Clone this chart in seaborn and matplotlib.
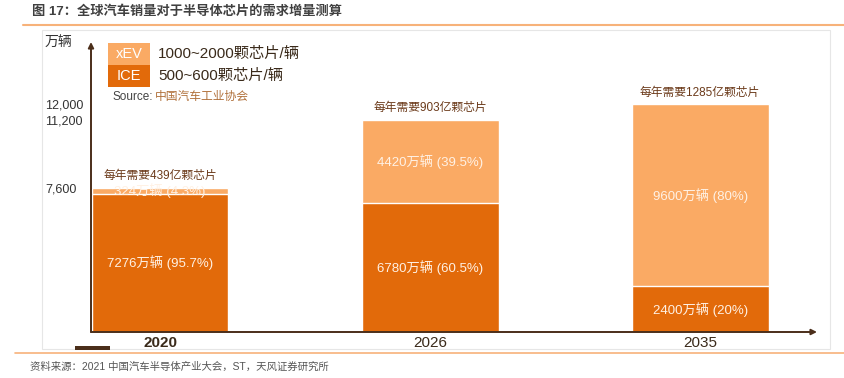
import numpy as np
import matplotlib
matplotlib.use('Agg')
import matplotlib.pyplot as plt
import seaborn as sns
import pandas as pd
from matplotlib.patches import Rectangle
from matplotlib.lines import Line2D

# data
years = ['2020', '2026', '2035']
ice = [7276, 6780, 2400]
xev = [324, 4420, 9600]
ice_pct = ['95.7%', '60.5%', '20%']
xev_pct = ['4.3%', '39.5%', '80%']
chips = ['439', '903', '1285']
yticks = [7600, 11200, 12000]

df = pd.DataFrame({'year': years, 'ice': ice, 'xev': xev})
df['total'] = df['ice'] + df['xev']

sns.set_theme(style='white')
plt.rcParams['font.family'] = ['Liberation Sans', 'Noto Sans CJK SC']

ICE_C = '#E26A0A'
XEV_C = '#FAAA64'
AXIS_C = '#4B2E1A'
LINE_C = '#F7B27A'

W, H = 845, 378
fig = plt.figure(figsize=(W / 100, H / 100), dpi=100)

def fx(px):
    return px / W

def fy(py):
    return 1 - py / H

# axes placed in pixel terms: left 91, right 817, bottom 332, top 42
ax = fig.add_axes([fx(91), fy(332), fx(817 - 91), (332 - 42) / H])

sns.barplot(data=df, x='year', y='total', color=XEV_C, saturation=1, width=0.507, ax=ax)
sns.barplot(data=df, x='year', y='ice', color=ICE_C, saturation=1, width=0.507, ax=ax)

ax.set_xlim(-0.2556, 2.433)
ax.set_ylim(0, 15294)
ax.set_xlabel('')
ax.set_ylabel('')
for s in ax.spines.values():
    s.set_visible(False)

ax.set_yticks(yticks)
ax.set_yticklabels([f'{v:,}' for v in yticks], fontsize=9, color='#333333')
ax.tick_params(axis='y', length=0, pad=33)
for t in ax.get_yticklabels():
    t.set_horizontalalignment('left')
ax.tick_params(axis='x', length=0, pad=3)
ax.set_xticks(range(len(years)))
ax.set_xticklabels(years, fontsize=11, color='#3a2a1a')
ax.get_xticklabels()[0].set_fontweight('bold')

# arrows for the axes
ax.annotate('', xy=(0, 1.0), xytext=(0, 0), xycoords='axes fraction',
            arrowprops=dict(arrowstyle='-|>', color=AXIS_C, lw=1.4, mutation_scale=8, shrinkA=0, shrinkB=0))
ax.annotate('', xy=(1.0, 0), xytext=(0, 0), xycoords='axes fraction',
            arrowprops=dict(arrowstyle='-|>', color=AXIS_C, lw=1.4, mutation_scale=8, shrinkA=0, shrinkB=0))

# segment labels and totals
for i in range(len(years)):
    ax.text(i, ice[i] / 2, f'{ice[i]}万辆 ({ice_pct[i]})', ha='center', va='center',
            fontsize=9.5, color='#FFF1E4')
    ax.text(i, ice[i] + xev[i] / 2, f'{xev[i]}万辆 ({xev_pct[i]})', ha='center', va='center',
            fontsize=9.5, color='#FFF1E4')
    ax.annotate(f'每年需要{chips[i]}亿颗芯片', xy=(i, ice[i] + xev[i]), xytext=(0, 4),
                textcoords='offset points', ha='center', va='bottom', fontsize=8.5, color='#6B3A1A')

# unit label
fig.text(fx(45), fy(43), '万辆', fontsize=10, color='#333333', va='center', ha='left')

# legend boxes
fig.patches.append(Rectangle((fx(108), fy(65)), fx(42), 22 / H, transform=fig.transFigure,
                             facecolor=XEV_C, edgecolor='none'))
fig.patches.append(Rectangle((fx(108), fy(87)), fx(42), 22 / H, transform=fig.transFigure,
                             facecolor=ICE_C, edgecolor='none'))
fig.text(fx(129), fy(54), 'xEV', fontsize=10.5, color='white', ha='center', va='center')
fig.text(fx(129), fy(76), 'ICE', fontsize=10.5, color='white', ha='center', va='center')
fig.text(fx(158), fy(54), '1000~2000颗芯片/辆', fontsize=11, color='#3a2a1a', ha='left', va='center')
fig.text(fx(158), fy(76), '500~600颗芯片/辆', fontsize=11, color='#3a2a1a', ha='left', va='center')
fig.text(fx(113), fy(97), 'Source:', fontsize=8.5, color='#444444', ha='left', va='center')
fig.text(fx(155), fy(97), '中国汽车工业协会', fontsize=8.5, color='#B0703A', ha='left', va='center')

# title and frame
fig.text(fx(32), fy(12), '图 17：全球汽车销量对于半导体芯片的需求增量测算', fontsize=9.5,
         fontweight='bold', color='#404040', ha='left', va='center')
fig.lines.append(Line2D([fx(23), 1], [fy(25), fy(25)], transform=fig.transFigure, color=LINE_C, lw=1.5))
fig.patches.append(Rectangle((fx(42), fy(349)), fx(830 - 42), (349 - 30) / H, transform=fig.transFigure,
                             facecolor='none', edgecolor='#E6E6E6', lw=0.8))
fig.patches.append(Rectangle((fx(75), fy(350)), fx(35), 4 / H, transform=fig.transFigure,
                             facecolor=AXIS_C, edgecolor='none'))
fig.lines.append(Line2D([fx(15), 1], [fy(353), fy(353)], transform=fig.transFigure, color=LINE_C, lw=1.2))
fig.text(fx(30), fy(367), '资料来源：2021 中国汽车半导体产业大会，ST，天风证券研究所', fontsize=7.5,
         color='#555555', ha='left', va='center')

fig.savefig('out.png', dpi=100)
